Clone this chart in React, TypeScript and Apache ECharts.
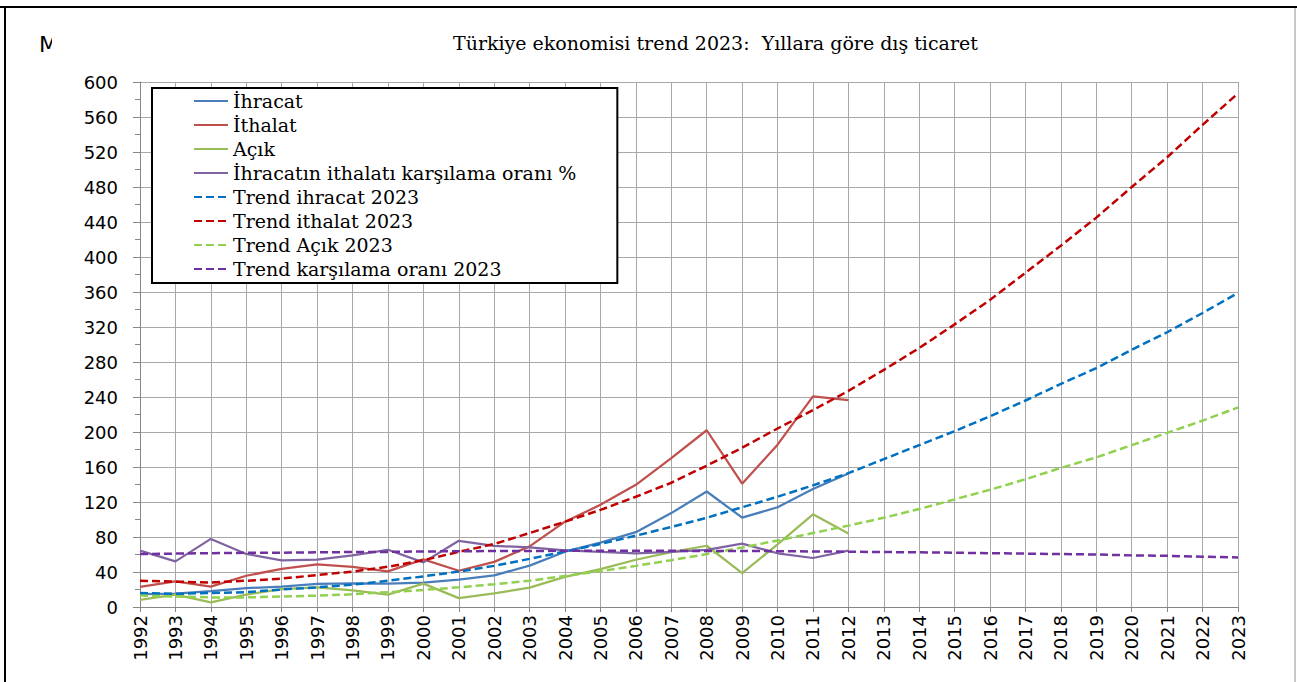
import React, { useEffect, useRef } from "react";
import * as echarts from "echarts";

const years = [
  "1992", "1993", "1994", "1995", "1996", "1997", "1998", "1999", "2000", "2001", "2002",
  "2003", "2004", "2005", "2006", "2007", "2008", "2009", "2010", "2011", "2012", "2013",
  "2014", "2015", "2016", "2017", "2018", "2019", "2020", "2021", "2022", "2023",
];

const ihracat = [14.7, 15.3, 18.1, 21.6, 23.2, 26.3, 27.0, 26.6, 27.8, 31.3, 36.1, 47.3, 63.2, 73.5, 85.5, 107.3, 132.0, 102.1, 114.0, 134.9, 152.5];
const ithalat = [22.9, 29.4, 23.3, 35.7, 43.6, 48.6, 45.9, 40.7, 54.5, 41.4, 51.6, 69.3, 97.5, 116.8, 139.6, 170.1, 202.0, 140.9, 185.5, 240.8, 236.5];
const acik = [8.2, 14.1, 5.2, 14.1, 20.4, 22.3, 18.9, 14.1, 26.7, 10.1, 15.5, 22.1, 34.4, 43.3, 54.0, 62.8, 70.0, 38.8, 71.5, 105.9, 84.1];
const oran = [64.4, 52.1, 77.8, 60.6, 53.3, 54.1, 58.9, 65.4, 51.0, 75.7, 69.9, 68.1, 64.8, 62.9, 61.3, 63.1, 65.4, 72.5, 61.4, 56.0, 64.5];

const trendIhracat = [16, 15, 16, 17, 20, 22.5, 25.5, 30, 35, 40.5, 47, 55, 63.5, 72, 81.5, 91.5, 102, 114, 126, 139, 153, 169, 185, 201, 218, 236, 255, 273, 294, 314, 336, 359];
const trendIthalat = [30, 29, 28, 30, 32.5, 36.5, 40.5, 46, 53.5, 63, 72, 84.5, 97.5, 111, 126, 142, 161.5, 182, 204, 225, 247, 271, 296, 323, 351, 382, 413, 445, 480, 514, 551, 587];
const trendAcik = [13, 12, 11, 11, 12, 13, 14.5, 17, 19.5, 22.5, 26, 30, 35.5, 41, 47, 53.5, 60.5, 68, 76, 84.5, 93, 102, 112, 123, 134, 146, 159, 171, 185, 199, 213, 228];
const trendOran = [60.5, 61, 61.5, 62, 62, 62.5, 62.8, 63, 63.5, 63.7, 64, 64, 64.2, 64.2, 64.2, 64.2, 64, 64, 63.8, 63.5, 63.2, 62.8, 62.5, 62, 61.5, 61, 60.5, 60, 59, 58.5, 57.5, 56.7];

const yTicks = { min: 0, max: 600, interval: 40 };

const SERIF = "'DejaVu Serif', 'Liberation Serif', serif";
const SANS = "'DejaVu Sans', 'Open Sans', sans-serif";

function solid(name: string, data: number[], color: string) {
  return {
    name,
    type: "line",
    data,
    showSymbol: false,
    symbol: "none",
    lineStyle: { color, width: 2.25 },
    itemStyle: { color },
    z: 3,
  };
}
function dashed(name: string, data: number[], color: string) {
  return {
    name,
    type: "line",
    data,
    showSymbol: false,
    symbol: "none",
    lineStyle: { color, width: 2.5, type: [8, 4] },
    itemStyle: { color },
    z: 4,
  };
}

export default function App() {
  const ref = useRef<HTMLDivElement>(null);
  useEffect(() => {
    const chart = echarts.init(ref.current!, null, { renderer: "svg" });
    chart.setOption({
      animation: false,
      backgroundColor: "#ffffff",
      title: {
        text: "Türkiye ekonomisi trend 2023:  Yıllara göre dış ticaret",
        left: 453,
        top: 33,
        padding: 0,
        textStyle: { fontFamily: SERIF, fontSize: 19, fontWeight: "normal", color: "#000" },
      },
      grid: { left: 140, right: 59, top: 82, bottom: 75, containLabel: false },
      legend: {
        orient: "vertical",
        left: 152,
        top: 88,
        padding: [3, 41, 4, 41],
        itemGap: 4,
        itemWidth: 34,
        itemHeight: 10,
        backgroundColor: "#ffffff",
        borderColor: "#000000",
        borderWidth: 2,
        itemStyle: { opacity: 0 },
        textStyle: { fontFamily: SERIF, fontSize: 19, color: "#000", lineHeight: 20 },
        data: [
          "İhracat",
          "İthalat",
          "Açık",
          "İhracatın ithalatı karşılama oranı %",
          "Trend ihracat 2023",
          "Trend ithalat 2023",
          "Trend Açık 2023",
          "Trend karşılama oranı 2023",
        ],
      },
      xAxis: {
        type: "category",
        data: years,
        boundaryGap: false,
        axisLine: { lineStyle: { color: "#868686", width: 1 } },
        axisTick: { show: true, length: 5, lineStyle: { color: "#868686" } },
        axisLabel: { rotate: 90, margin: 8, fontFamily: SANS, fontSize: 18, color: "#000" },
        splitLine: { show: true, lineStyle: { color: "#a8a8a8", width: 1 } },
      },
      yAxis: {
        type: "value",
        min: yTicks.min,
        max: yTicks.max,
        interval: yTicks.interval,
        axisLine: { show: true, lineStyle: { color: "#868686", width: 1 } },
        axisTick: { show: true, length: 7, lineStyle: { color: "#868686" } },
        minorTick: { show: true, splitNumber: 2, length: 5, lineStyle: { color: "#868686" } },
        axisLabel: { margin: 22, fontFamily: SANS, fontSize: 18, color: "#000" },
        splitLine: { show: true, lineStyle: { color: "#a8a8a8", width: 1 } },
      },
      series: [
        solid("İhracat", ihracat, "#4a7ebb"),
        solid("İthalat", ithalat, "#c0504d"),
        solid("Açık", acik, "#9bbb59"),
        solid("İhracatın ithalatı karşılama oranı %", oran, "#8064a2"),
        dashed("Trend ihracat 2023", trendIhracat, "#0070c0"),
        dashed("Trend ithalat 2023", trendIthalat, "#c00000"),
        dashed("Trend Açık 2023", trendAcik, "#92d050"),
        dashed("Trend karşılama oranı 2023", trendOran, "#7030a0"),
      ],
      graphic: [
        { type: "line", shape: { x1: 0, y1: 7, x2: 1297, y2: 7 }, style: { stroke: "#000", lineWidth: 2 }, z: 10 },
        { type: "line", shape: { x1: 5, y1: 6, x2: 5, y2: 682 }, style: { stroke: "#000", lineWidth: 2 }, z: 10 },
        { type: "line", shape: { x1: 1295, y1: 8, x2: 1295, y2: 682 }, style: { stroke: "#c8c8c8", lineWidth: 2 }, z: 10 },
        {
          type: "text",
          x: 39,
          y: 33,
          style: { text: "M", fontFamily: SANS, fontSize: 22, fill: "#000" },
          z: 10,
        },
        { type: "rect", shape: { x: 52, y: 28, width: 16, height: 30 }, style: { fill: "#fff" }, z: 11 },
      ],
    });
    return () => chart.dispose();
  }, []);
  return (
    <div
      ref={ref}
      style={{ position: "absolute", left: 0, top: 0, width: 1297, height: 682 }}
    />
  );
}
